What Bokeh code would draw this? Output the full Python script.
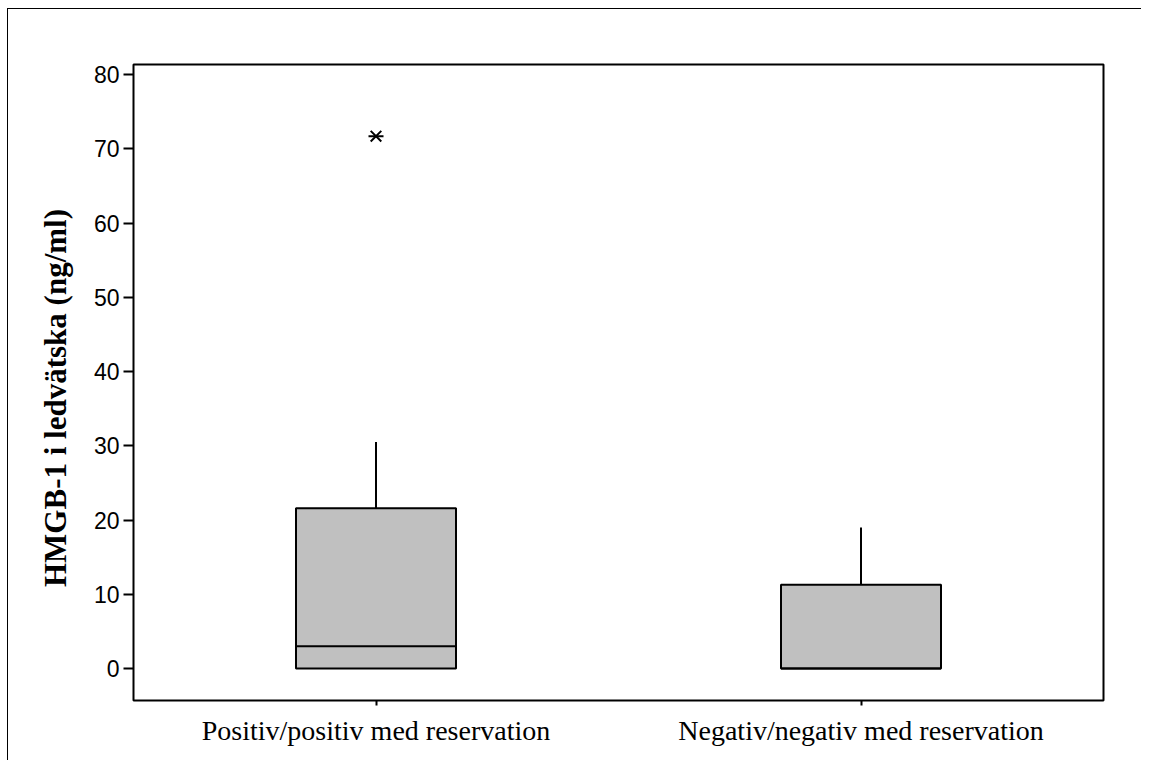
from bokeh.plotting import figure
from bokeh.models import FactorRange, Range1d, ColumnDataSource
from bokeh.transform import dodge
from bokeh.embed import file_html
from bokeh.resources import INLINE

categories = ["Positiv/positiv med reservation", "Negativ/negativ med reservation"]
q1 = [0.0, 0.0]
median = [3.0, 0.0]
q3 = [21.6, 11.3]
lower = [0.0, 0.0]
upper = [30.5, 19.0]
outlier_cat = ["Positiv/positiv med reservation"]
outlier_val = [71.7]
y_ticks = [0, 10, 20, 30, 40, 50, 60, 70, 80]
y_title = "HMGB-1 i ledvätska (ng/ml)"

src = ColumnDataSource(dict(cat=categories, q1=q1, median=median, q3=q3,
                            lower=lower, upper=upper))
osrc = ColumnDataSource(dict(cat=outlier_cat, val=outlier_val))

p = figure(width=1141, height=760, output_backend="svg", toolbar_location=None,
           x_range=FactorRange(*categories, range_padding=0),
           y_range=Range1d(-4.3, 81.35),
           min_border_left=125, min_border_top=55, min_border_right=38,
           min_border_bottom=60)
p.frame_width = 970
p.frame_height = 636
p.styles = {"margin-left": "7px", "margin-top": "8px",
            "border-left": "1px solid black", "border-top": "1px solid black"}

p.grid.visible = False
p.outline_line_color = "black"
p.outline_line_width = 2

bw = 0.33
# whiskers
p.segment(x0="cat", y0="q3", x1="cat", y1="upper", source=src,
          line_color="black", line_width=2)
p.segment(x0="cat", y0="lower", x1="cat", y1="q1", source=src,
          line_color="black", line_width=2)
# boxes
p.vbar(x="cat", width=bw, bottom="q1", top="q3", source=src,
       fill_color="#c0c0c0", line_color="black", line_width=2)
# median
p.segment(x0=dodge("cat", -bw / 2, range=p.x_range), y0="median",
          x1=dodge("cat", bw / 2, range=p.x_range), y1="median", source=src,
          line_color="black", line_width=2)
# outlier
p.scatter(x="cat", y="val", source=osrc, marker="x", size=15,
          line_color="black", line_width=2)
p.scatter(x="cat", y="val", source=osrc, marker="dash", size=15,
          line_color="black", line_width=2)

p.yaxis.ticker = y_ticks
p.yaxis.axis_label = y_title + "\u00a0" * 4
p.yaxis.axis_label_text_font = "Liberation Serif"
p.yaxis.axis_label_text_font_style = "bold"
p.yaxis.axis_label_text_font_size = "31px"
p.yaxis.axis_label_text_color = "black"
p.yaxis.axis_label_standoff = 18
p.yaxis.major_label_text_font = "Liberation Sans"
p.yaxis.major_label_text_font_size = "23px"
p.yaxis.major_label_text_color = "black"
p.yaxis.major_label_standoff = 4
p.yaxis.major_tick_out = 10
p.yaxis.major_tick_in = 0
p.yaxis.minor_tick_line_color = None
p.yaxis.axis_line_color = None
p.yaxis.major_tick_line_width = 2
p.yaxis.major_tick_line_color = "black"

p.xaxis.major_label_text_font = "Liberation Serif"
p.xaxis.major_label_text_font_size = "28px"
p.xaxis.major_label_text_color = "black"
p.xaxis.major_tick_out = 5
p.xaxis.major_tick_in = 0
p.xaxis.major_tick_line_width = 2
p.xaxis.major_tick_line_color = "black"
p.xaxis.axis_line_color = None
p.xaxis.major_label_standoff = 9

open("out.html", "w").write(file_html(p, INLINE))
